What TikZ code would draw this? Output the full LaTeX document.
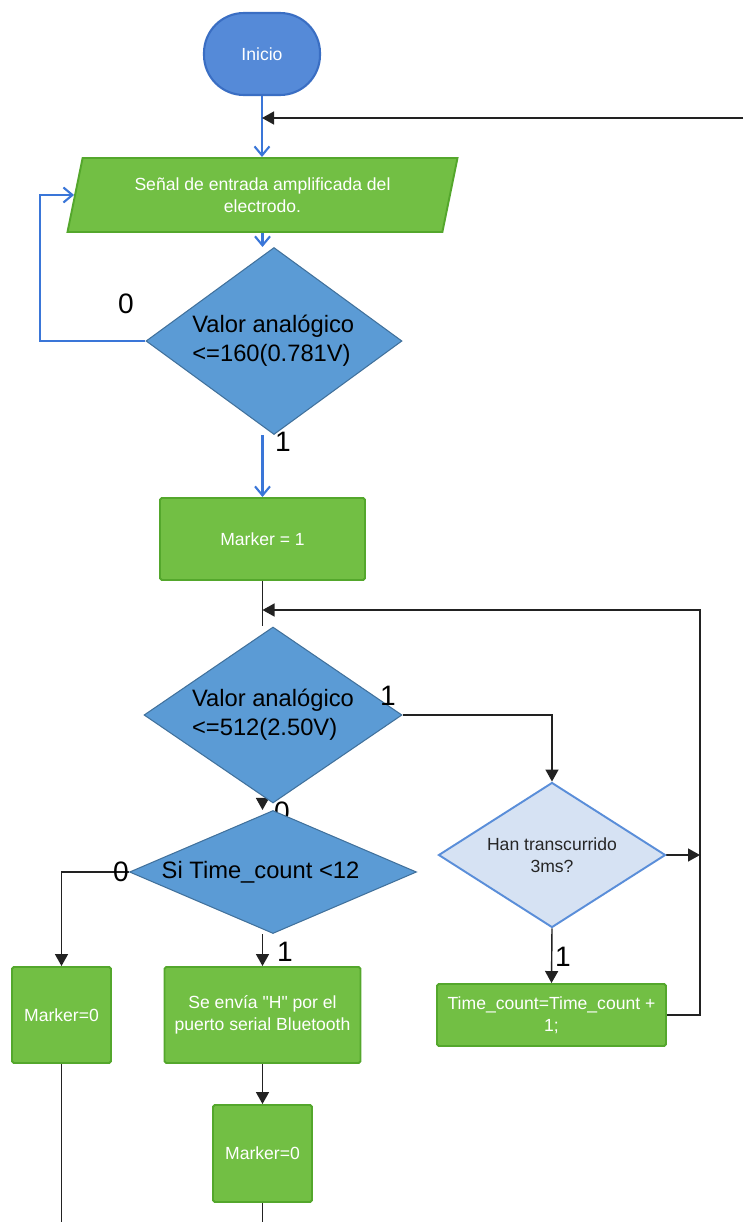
\documentclass[tikz,border=0pt]{standalone}
\usepackage{fontspec}
\setmainfont{Liberation Sans}
\usetikzlibrary{shapes.geometric, arrows.meta, positioning, calc, backgrounds}

\definecolor{azulinicio}{RGB}{85,138,216}
\definecolor{bordeinicio}{RGB}{58,110,195}
\definecolor{verde}{RGB}{114,191,68}
\definecolor{bordeverde}{RGB}{84,167,44}
\definecolor{azuldec}{RGB}{91,155,213}
\definecolor{bordedec}{RGB}{65,113,156}
\definecolor{azulclaro}{RGB}{214,226,243}
\definecolor{bordeclaro}{RGB}{90,142,217}
\definecolor{azullinea}{RGB}{58,118,216}
\definecolor{gristrazo}{RGB}{34,34,34}

\tikzset{
  terminal/.style={draw=bordeinicio, line width=1.2pt, fill=azulinicio, text=white, rounded corners=0.8cm, minimum width=2.32cm, minimum height=1.64cm},
  proceso/.style={draw=bordeverde, line width=1.1pt, fill=verde, text=white, rounded corners=1pt, align=center, inner sep=2pt},
  entradadatos/.style={trapezium, trapezium left angle=72, trapezium right angle=108, trapezium stretches body, draw=bordeverde, line width=1.1pt, fill=verde, text=white, align=center, minimum width=7.8cm, minimum height=1.48cm},
  decision/.style={diamond, draw=bordedec, line width=0.6pt, fill=azuldec, inner sep=0pt, align=left, font=\fontsize{13.5}{16.5}\selectfont},
  decisionclara/.style={diamond, draw=bordeclaro, line width=1.1pt, fill=azulclaro, inner sep=0pt, align=center, text=black!85},
  lineanegra/.style={draw=gristrazo, line width=0.8pt},
  flecha/.style={lineanegra, -{Triangle[width=0.26cm,length=0.24cm]}},
  flechaazul/.style={draw=azullinea, line width=1.2pt, -{Straight Barb[width=0.3cm,length=0.18cm]}},
  etiqueta/.style={font=\fontsize{16}{18}\selectfont, inner sep=0pt}
}

\begin{document}
\begin{tikzpicture}[font=\fontsize{10}{12.5}\selectfont]
\useasboundingbox (0,0) rectangle (14.86,-24.44);

\node[terminal] (inicio) at (5.24,-1.08) {Inicio};
\node[entradadatos] (senal) at (5.25,-3.9) {Señal de entrada amplificada del\\electrodo.};
\node[decision, minimum width=5.12cm, minimum height=3.74cm, shape aspect=1.37] (q1) at (5.48,-6.82) {Valor analógico\\<=160(0.781V)\hspace*{0.1cm}};
\node[proceso, minimum width=4.1cm, minimum height=1.64cm] (marca1) at (5.25,-10.78) {Marker = 1};
\node[decision, minimum width=5.16cm, minimum height=3.52cm, shape aspect=1.47] (q2) at (5.46,-14.3) {Valor analógico\\<=512(2.50V)};
\node[decisionclara, minimum width=4.54cm, minimum height=2.9cm, shape aspect=1.57] (q3) at (11.04,-17.1) {Han transcurrido\\3ms?};
\node[decision, minimum width=5.74cm, minimum height=2.46cm, shape aspect=2.33] (q4) at (5.46,-17.44) {Si Time\_count <12\hspace*{0.5cm}};
\node[proceso, minimum width=4.58cm, minimum height=1.24cm] (contador) at (11.03,-20.3) {Time\_count=Time\_count +\\1;};
\node[proceso, minimum width=1.98cm, minimum height=1.92cm] (marca0a) at (1.23,-20.3) {Marker=0};
\node[proceso, minimum width=3.92cm, minimum height=1.92cm] (envio) at (5.25,-20.3) {Se envía \textquotedbl H\textquotedbl{} por el\\puerto serial Bluetooth};
\node[proceso, minimum width=1.98cm, minimum height=1.94cm] (marca0b) at (5.25,-23.07) {Marker=0};

\coordinate (retorno) at (14.86,-2.36);
\coordinate (izq) at (0.8,-6.82);
\coordinate (lazo) at (14.0,-12.2);
\coordinate (fin1) at (1.23,-24.44);
\coordinate (fin2) at (5.25,-24.44);

% conectores detras de las figuras
\begin{pgfonlayer}{background}
\draw[flechaazul] (inicio.south) -- (inicio.south |- senal.north);
\draw[flecha] (retorno) -- (retorno -| inicio);
\draw[flechaazul] (senal.south) -- (senal.south |- q1.north);
\draw[flechaazul] (q1.west) -- (izq) |- (senal.west);
\draw[flechaazul] (marca1.north |- q1.south) -- (marca1.north);
\draw[lineanegra] (marca1.south) -- (marca1.south |- q2.north);
\draw[flecha] (contador.east) -| (lazo) -- (lazo -| marca1);
\draw[flecha] (q2.east) -| (q3.north);
\draw[flecha] (q3.east) -- (q3.east -| lazo);
\draw[flecha] (q3.south) -- (contador.north);
\draw[flecha] (q2.south -| marca1) -- (q4.north -| marca1);
\draw[flecha] (q4.west) -| (marca0a.north);
\draw[flecha] (q4.south -| envio) -- (envio.north);
\draw[flecha] (envio.south) -- (marca0b.north);
\draw[lineanegra] (marca0a.south) -- (fin1);
\draw[lineanegra] (marca0b.south) -- (fin2);
\node[etiqueta] (l0b) at (5.64,-16.24) {0};
\end{pgfonlayer}

\node[etiqueta] (l0a) at (2.52,-6.08) {0};
\node[etiqueta] (l1a) at (5.66,-8.84) {1};
\node[etiqueta] (l1b) at (7.76,-13.92) {1};
\node[etiqueta] (l0c) at (2.42,-17.44) {0};
\node[etiqueta] (l1c) at (5.7,-19.04) {1};
\node[etiqueta] (l1d) at (11.26,-19.14) {1};
\end{tikzpicture}
\end{document}
